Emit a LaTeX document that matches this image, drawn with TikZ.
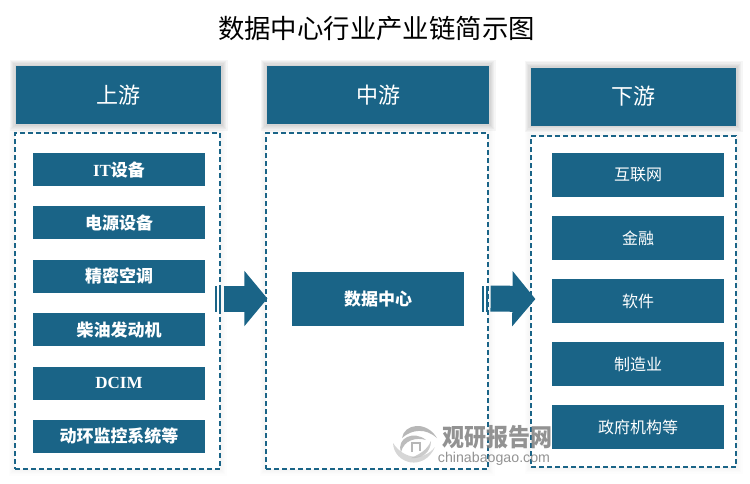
\documentclass[tikz,border=0pt]{standalone}
\usepackage{fontspec}
\setmainfont{Noto Sans CJK SC}
\newfontfamily\latinbold[BoldFont=Liberation Serif Bold]{Liberation Serif}
\newfontfamily\marksans{Liberation Sans}
\usetikzlibrary{arrows.meta, positioning}
\definecolor{chainblue}{HTML}{1A6487}
\newcommand*{\latinpart}[1]{{\latinbold\bfseries #1}}

\begin{document}
\begin{tikzpicture}[
      x=1pt,y=-1pt,on grid,
      softglow/.style={
        preaction={draw=black,solid,fill=none,draw opacity=#1,line width=13pt},
        preaction={draw=black,solid,fill=none,draw opacity=#1,line width=10.5pt},
        preaction={draw=black,solid,fill=none,draw opacity=#1,line width=8pt},
        preaction={draw=black,solid,fill=none,draw opacity=#1,line width=5.5pt},
        preaction={draw=black,solid,fill=none,draw opacity=#1,line width=3pt}},
      header/.style={softglow=.035,fill=chainblue,text=white,minimum height=58pt,inner sep=0pt,font=\fontsize{22}{22}\selectfont},
      panel/.style={softglow=.008,draw=chainblue,fill=white,dashed,line width=1.2pt,dash pattern=on 5pt off 3pt,minimum height=336pt,inner sep=0pt},
      itemleft/.style={fill=chainblue,text=white,minimum width=172pt,minimum height=33pt,inner sep=0pt,font=\fontsize{17}{17}\selectfont\bfseries},
      itemright/.style={fill=chainblue,text=white,minimum width=172pt,minimum height=44pt,inner sep=0pt,font=\fontsize{16}{16}\selectfont},
      flowarrow/.style={chainblue,line width=26pt,-{Triangle[length=23pt,width=54pt]},shorten <=3pt,shorten >=-2pt},
      stripe/.style={draw=none,fill=chainblue},
      swoosh/.style={draw=none,opacity=.8},
      ]

      \node[font=\fontsize{26.4}{27}\selectfont] (title) at (376.5,29) {数据中心行业产业链简示图};

      \node[panel,minimum width=205pt]                    (boxUp)   at (117.5,301) {};
      \node[panel,minimum width=222pt]                    (boxMid)  at (377,301)   {};
      \node[panel,minimum width=205pt,minimum height=331pt] (boxDown) at (633.5,301.5) {};

      \node[header,minimum width=205pt] (headUp)   at (118.5,95) {上游};
      \node[header,minimum width=222pt] (headMid)  at (378,95)   {中游};
      \node[header,minimum width=205pt] (headDown) at (633.5,96.5) {下游};

      \begin{scope}[node distance=53.4pt]
        \node[itemleft] (itA) at (119,169.5) {\latinpart{IT}设备};
        \node[itemleft] (itB) [below=of itA] {电源设备};
        \node[itemleft] (itC) [below=of itB] {精密空调};
        \node[itemleft] (itD) [below=of itC] {柴油发动机};
        \node[itemleft] (itE) [below=of itD] {\latinpart{DCIM}};
        \node[itemleft] (itF) [below=of itE] {动环监控系统等};
      \end{scope}

      \node[itemleft,minimum height=54pt] (center) at (378,299) {数据中心};

      \begin{scope}[node distance=63pt]
        \node[itemright] (useA) at (638,175) {互联网};
        \node[itemright] (useB) [below=of useA] {金融};
        \node[itemright] (useC) [below=of useB] {软件};
        \node[itemright] (useD) [below=of useC] {制造业};
        \node[itemright] (useE) [below=of useD] {政府机构等};
      \end{scope}

      \draw[flowarrow] ([yshift=2.5pt]boxUp.east) -- ([yshift=2.5pt]boxMid.west);
      \draw[flowarrow] ([yshift=2.5pt,xshift=-1pt]boxMid.east) -- ([yshift=2.5pt,xshift=3pt]boxDown.west);
      \fill[stripe] (215,286) rectangle (217,312);
      \fill[stripe] (219,286) rectangle (221,312);
      \fill[stripe] (482,286) rectangle (484,312);
      \fill[stripe] (486,286) rectangle (488,312);

      \fill[swoosh,gray!70] (402,438) .. controls (404,424) and (426,420) .. (437,438) .. controls (426,428) and (412,429) .. (402,438) -- cycle;
      \fill[swoosh,gray!40] (393,443) .. controls (394,464) and (424,472) .. (435,447) .. controls (424,461) and (404,460) .. (393,443) -- cycle;
      \fill[swoosh,gray!65] (401,452) .. controls (396,438) and (414,430) .. (426,440) .. controls (416,437) and (404,440) .. (401,452) -- cycle;
      \fill[swoosh,gray!50] (411,458) .. controls (422,459) and (431,452) .. (431,441) .. controls (427,450) and (420,454) .. (411,458) -- cycle;
      \draw[gray!70,line width=1.5pt,opacity=.8] (412,452) -- (412,443) -- (420,443) -- (420,451);

      \node[text=black!50,opacity=.85,yscale=1.12,font=\fontsize{22}{22}\selectfont\bfseries] (markcn) at (497,437) {观研报告网};
      \node[text=black!50,opacity=.85,font=\fontsize{14.2}{15}\marksans] (markurl) at (494,458.5) {chinabaogao.com};
      \useasboundingbox (0,0) rectangle (750,483);
    \end{tikzpicture}
\end{document}
